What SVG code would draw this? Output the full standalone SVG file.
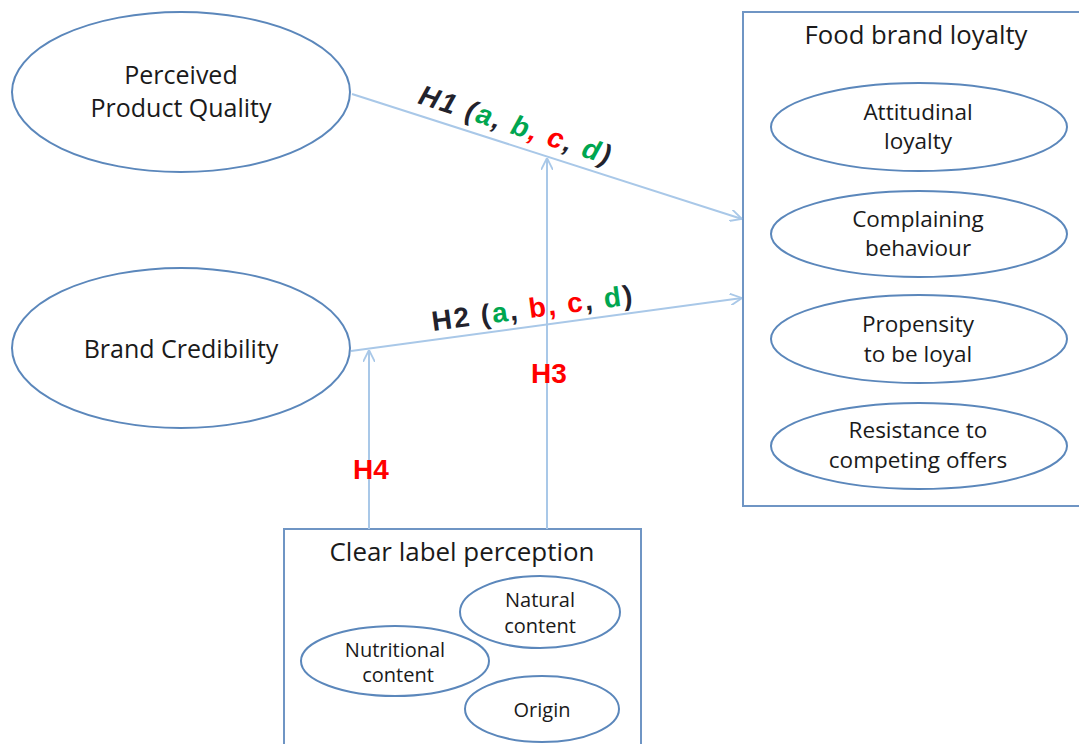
<svg xmlns="http://www.w3.org/2000/svg" width="1079" height="744" viewBox="0 0 1079 744">
<style>
.bg{fill:#ffffff}
.ell{fill:#ffffff;stroke:#5b87bb;stroke-width:2}
.box{fill:#ffffff;stroke:#6f95c4;stroke-width:2}
.conn{fill:none;stroke:#a9c8e8;stroke-width:2}
.lbl{font-family:"Open Sans",Lato,"Liberation Sans",sans-serif;fill:#1a1a1a;text-anchor:middle}
.big{font-size:25px}
.mid{font-size:22.5px}
.sm{font-size:20px}
.h{font-family:"Liberation Sans",Arial,sans-serif;font-weight:bold;font-size:28px}
.dk{fill:#22222c}
.gr{fill:#00a650}
.rd{fill:#ff0000}
</style>
<defs>
<marker id="arr" markerWidth="12" markerHeight="12" refX="10" refY="5" orient="auto" markerUnits="userSpaceOnUse" viewBox="0 0 10 10">
<path d="M0,0 L10,5 L0,10" fill="none" stroke="#a9c8e8" stroke-width="1.5"/>
</marker>
</defs>
<rect class="bg" x="0" y="0" width="1079" height="744"/>

<g id="food-brand-loyalty">
<rect class="box" x="743" y="12" width="345" height="494"/>
<text class="lbl big" x="916" y="44" textLength="223" lengthAdjust="spacingAndGlyphs">Food brand loyalty</text>
</g>
<g id="attitudinal-loyalty">
<ellipse class="ell" cx="919" cy="127" rx="148" ry="44"/>
<text class="lbl mid" x="918" y="120">Attitudinal</text>
<text class="lbl mid" x="918" y="149">loyalty</text>
</g>
<g id="complaining-behaviour">
<ellipse class="ell" cx="919" cy="234" rx="148" ry="43"/>
<text class="lbl mid" x="918" y="227">Complaining</text>
<text class="lbl mid" x="918" y="256">behaviour</text>
</g>
<g id="propensity">
<ellipse class="ell" cx="919" cy="339" rx="148" ry="44"/>
<text class="lbl mid" x="918" y="332">Propensity</text>
<text class="lbl mid" x="918" y="362">to be loyal</text>
</g>
<g id="resistance">
<ellipse class="ell" cx="919" cy="446" rx="148" ry="43"/>
<text class="lbl mid" x="918" y="438">Resistance to</text>
<text class="lbl mid" x="918" y="468">competing offers</text>
</g>

<g id="perceived-product-quality">
<ellipse class="ell" cx="181" cy="92" rx="169" ry="80"/>
<text class="lbl big" x="181" y="84">Perceived</text>
<text class="lbl big" x="181" y="117">Product Quality</text>
</g>
<g id="brand-credibility">
<ellipse class="ell" cx="181" cy="348" rx="169" ry="80"/>
<text class="lbl big" x="181" y="358">Brand Credibility</text>
</g>

<g id="clear-label-perception">
<rect class="box" x="284" y="529" width="357" height="230"/>
<text class="lbl big" x="462" y="561" textLength="265" lengthAdjust="spacingAndGlyphs">Clear label perception</text>
</g>
<g id="natural-content">
<ellipse class="ell" cx="540" cy="612" rx="80" ry="36"/>
<text class="lbl sm" x="540" y="607">Natural</text>
<text class="lbl sm" x="540" y="633">content</text>
</g>
<g id="nutritional-content">
<ellipse class="ell" cx="395" cy="661" rx="94" ry="35"/>
<text class="lbl sm" x="395" y="657">Nutritional</text>
<text class="lbl sm" x="398" y="682">content</text>
</g>
<g id="origin">
<ellipse class="ell" cx="542" cy="709" rx="77" ry="33"/>
<text class="lbl sm" x="542" y="717">Origin</text>
</g>

<g id="connectors">
<line class="conn" x1="352" y1="94" x2="742" y2="219" marker-end="url(#arr)"/>
<line class="conn" x1="351" y1="351" x2="742" y2="298" marker-end="url(#arr)"/>
<line class="conn" x1="547" y1="529" x2="547" y2="158" marker-end="url(#arr)"/>
<line class="conn" x1="369" y1="529" x2="369" y2="350" marker-end="url(#arr)"/>
<text class="h" x="417" y="103" transform="rotate(18 417 103)" font-style="italic" textLength="200" lengthAdjust="spacing"><tspan class="dk">H1 (</tspan><tspan class="gr">a</tspan><tspan class="dk">, </tspan><tspan class="gr">b</tspan><tspan class="rd">, c</tspan><tspan class="dk">, </tspan><tspan class="gr">d</tspan><tspan class="dk">)</tspan></text>
<text class="h" x="433" y="331" transform="rotate(-7.6 433 331)" textLength="202" lengthAdjust="spacing"><tspan class="dk">H2 (</tspan><tspan class="gr">a</tspan><tspan class="dk">, </tspan><tspan class="rd">b, c</tspan><tspan class="dk">, </tspan><tspan class="gr">d</tspan><tspan class="dk">)</tspan></text>
<text class="h rd" x="531" y="383">H3</text>
<text class="h rd" x="353" y="479">H4</text>
</g>
</svg>
